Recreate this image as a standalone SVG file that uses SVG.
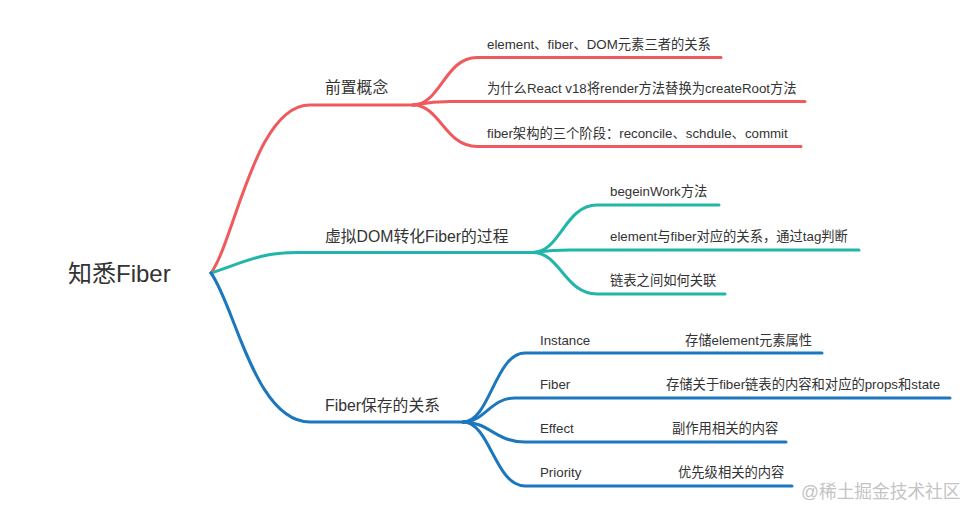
<svg xmlns="http://www.w3.org/2000/svg" width="978" height="518" viewBox="0 0 978 518">
<style>
text{font-family:"Liberation Sans","Noto Sans CJK SC",sans-serif;fill:#333333}
.root{font-size:24px}
.main{font-size:15.8px}
.leaf{font-size:13.3px}
.wm{font-size:17.7px;fill:#c4c4c4}
.c{fill:none;stroke-width:3;stroke-linecap:round}
.red{stroke:#ef5a5e}
.teal{stroke:#22b5aa}
.blue{stroke:#1c77bd}
</style>
<rect width="978" height="518" fill="#ffffff"/>
<g id="connectors">
  <path class="c red" d="M211 273 C235 240 255 105 310 105 L413 105"/>
  <path class="c red" d="M413 105 C440 105 445 57.5 477 57.5 L721 57.5"/>
  <path class="c red" d="M413 105 C425 103 432 101.5 450 101.5 L805 101.5"/>
  <path class="c red" d="M413 105 C440 105 445 146.5 477 146.5 L801 146.5"/>
  <path class="c teal" d="M211 273 C245 262 260 252.5 297 252.5 L533 252.5"/>
  <path class="c teal" d="M533 252.5 C560 252.5 565 205 597 205 L719 205"/>
  <path class="c teal" d="M533 252.5 C545 251 552 250 570 250 L859 250"/>
  <path class="c teal" d="M533 252.5 C560 252.5 565 294 597 294 L725 294"/>
  <path class="c blue" d="M211 273 C235 306 255 422 310 422 L463 422"/>
  <path class="c blue" d="M463 422 C490 422 495 353 525 353 L822 353"/>
  <path class="c blue" d="M463 422 C485 422 490 398 515 398 L950 398"/>
  <path class="c blue" d="M463 422 C490 422 495 442 525 442 L786 442"/>
  <path class="c blue" d="M463 422 C490 422 495 486 525 486 L792 486"/>
</g>
<g id="root"><text class="root" x="68" y="282">知悉Fiber</text></g>
<g id="n-qianzhi"><text class="main" x="325" y="93">前置概念</text></g>
<g id="n-qianzhi-1"><text class="leaf" x="487" y="49">element、fiber、DOM元素三者的关系</text></g>
<g id="n-qianzhi-2"><text class="leaf" x="487" y="93">为什么React v18将render方法替换为createRoot方法</text></g>
<g id="n-qianzhi-3"><text class="leaf" x="487" y="138">fiber架构的三个阶段：reconcile、schdule、commit</text></g>
<g id="n-xuni"><text class="main" x="325" y="242">虚拟DOM转化Fiber的过程</text></g>
<g id="n-xuni-1"><text class="leaf" x="610" y="196">begeinWork方法</text></g>
<g id="n-xuni-2"><text class="leaf" x="610" y="241">element与fiber对应的关系，通过tag判断</text></g>
<g id="n-xuni-3"><text class="leaf" x="610" y="285">链表之间如何关联</text></g>
<g id="n-baocun"><text class="main" x="325" y="411">Fiber保存的关系</text></g>
<g id="n-instance"><text class="leaf" x="540" y="345">Instance</text><text class="leaf" x="685" y="345">存储element元素属性</text></g>
<g id="n-fiber"><text class="leaf" x="540" y="389">Fiber</text><text class="leaf" x="666" y="389">存储关于fiber链表的内容和对应的props和state</text></g>
<g id="n-effect"><text class="leaf" x="540" y="433">Effect</text><text class="leaf" x="672" y="433">副作用相关的内容</text></g>
<g id="n-priority"><text class="leaf" x="540" y="477">Priority</text><text class="leaf" x="678" y="477">优先级相关的内容</text></g>
<text class="wm" x="801" y="498">@稀土掘金技术社区</text>
</svg>
